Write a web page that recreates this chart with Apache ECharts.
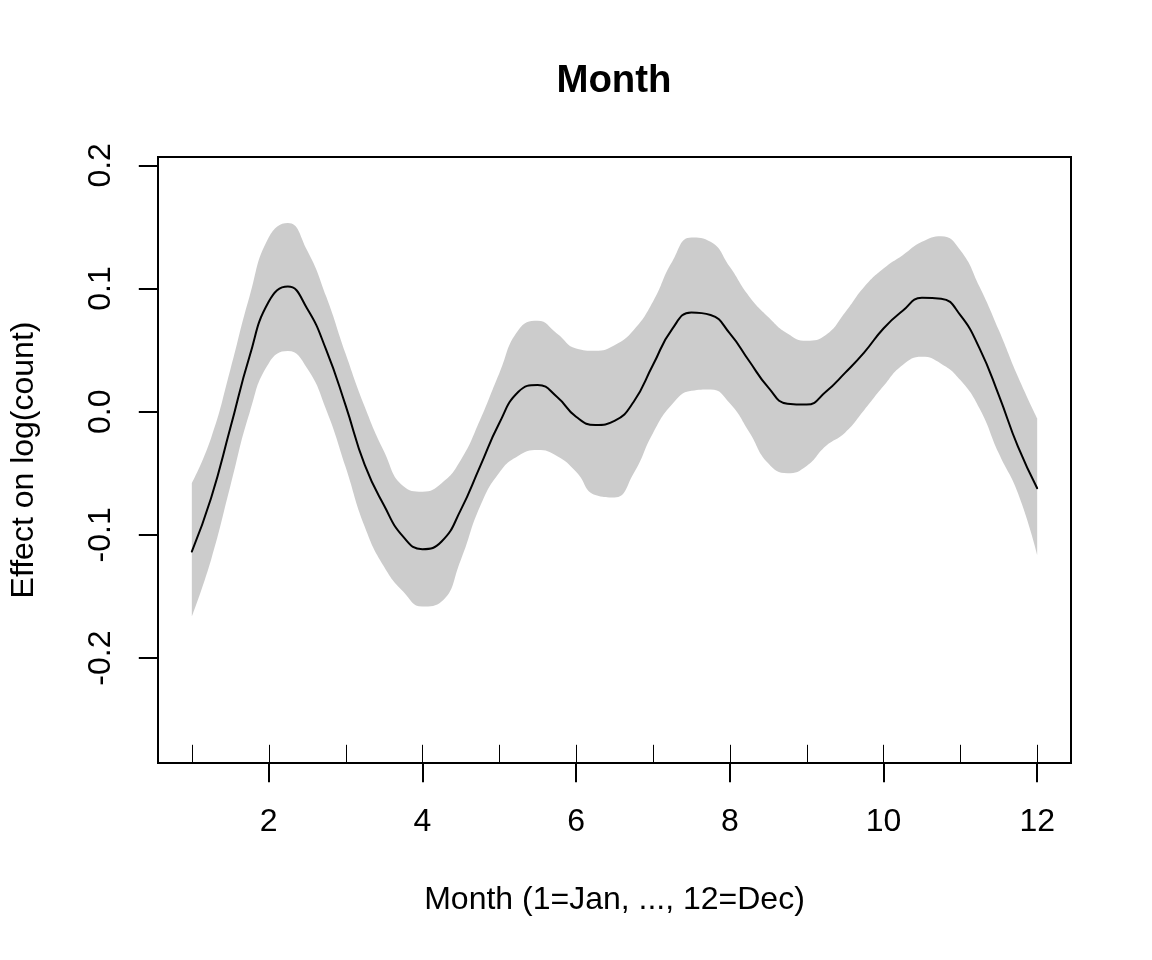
<!DOCTYPE html>
<html>
<head>
<meta charset="utf-8">
<script src="https://cdn.jsdelivr.net/npm/echarts@6/dist/echarts.min.js"></script>
<style>html,body{margin:0;padding:0;background:#fff}#c{width:1152px;height:960px}</style>
</head>
<body>
<div id="c"></div>
<script>
const months = [1,1.25,1.5,1.75,2,2.25,2.5,2.75,3,3.25,3.5,3.75,4,4.25,4.5,4.75,5,5.25,5.5,5.75,6,6.25,6.5,6.75,7,7.25,7.5,7.75,8,8.25,8.5,8.75,9,9.25,9.5,9.75,10,10.25,10.5,10.75,11,11.25,11.5,11.75,12];
const fitValues = [-0.1135,-0.0703,-0.0135,0.0446,0.0892,0.1016,0.0838,0.050,0.0054,-0.0432,-0.076,-0.1014,-0.1116,-0.1054,-0.0797,-0.0446,-0.0094,0.0162,0.0217,0.0122,-0.0041,-0.0108,-0.0075,0.0081,0.0379,0.0671,0.0805,0.0785,0.0636,0.0414,0.0198,0.0065,0.0058,0.0162,0.0315,0.0482,0.0676,0.0819,0.0925,0.0918,0.0784,0.0514,0.0135,-0.0284,-0.0621];
const upperValues = [-0.0581,-0.0216,0.0338,0.0933,0.1414,0.1533,0.1311,0.0933,0.0473,0.0041,-0.032,-0.0603,-0.0649,-0.0581,-0.0392,-0.0067,0.0311,0.0663,0.0738,0.0636,0.0514,0.0495,0.054,0.0663,0.0892,0.1217,0.1414,0.1379,0.1176,0.0938,0.077,0.0636,0.0576,0.0622,0.0805,0.1014,0.1163,0.1271,0.1379,0.1425,0.1311,0.1014,0.0663,0.0284,-0.0054];
const lowerValues = [-0.1663,-0.1203,-0.0608,-0.0013,0.0392,0.0492,0.0352,0.0014,-0.0446,-0.0933,-0.1257,-0.146,-0.1582,-0.1541,-0.1203,-0.077,-0.0495,-0.0357,-0.0311,-0.0359,-0.0487,-0.0676,-0.0696,-0.05,-0.0175,0.006,0.017,0.0181,0.0068,-0.0162,-0.0419,-0.05,-0.044,-0.0278,-0.017,0.0014,0.0208,0.0379,0.0446,0.039,0.0257,0.0027,-0.0338,-0.0662,-0.1162];
const rugMonths = [1,2,3,4,5,6,7,8,9,10,11,12];
const xTicks = [2,4,6,8,10,12];
const yTicks = [-0.2,-0.1,0,0.1,0.2];
const titleText = 'Month';
const xName = 'Month (1=Jan, ..., 12=Dec)';
const yName = 'Effect on log(count)';

const X_MIN = 0.56, X_MAX = 12.44, Y_MIN = -0.2852, Y_MAX = 0.2068;
const FONT = "'Liberation Sans', Arial, sans-serif";
const SMOOTH = 0.5;

const chart = echarts.init(document.getElementById('c'), null, {renderer: 'canvas'});
// value first so the stack is applied to the y dimension
const lowerData = months.map((m, i) => [lowerValues[i], m]);
const bandData = months.map((m, i) => [upperValues[i] - lowerValues[i], m]);
const fitData = months.map((m, i) => [m, fitValues[i]]);

chart.setOption({
  animation: false,
  backgroundColor: '#fff',
  title: {
    text: titleText, left: 614, top: 62, textAlign: 'center', padding: 0,
    textStyle: {fontFamily: FONT, fontSize: 38.4, fontWeight: 'bold', color: '#000'}
  },
  grid: {left: 157, top: 157, width: 914, height: 606, show: true, borderColor: '#000', borderWidth: 2, backgroundColor: 'transparent'},
  xAxis: {
    type: 'value', min: X_MIN, max: X_MAX,
    name: xName, nameLocation: 'middle', nameGap: 121,
    nameTextStyle: {fontFamily: FONT, fontSize: 32, color: '#000'},
    axisLine: {show: false, onZero: false},
    splitLine: {show: false},
    axisTick: {show: true, inside: false, length: 19.2, customValues: xTicks, lineStyle: {color: '#000', width: 2}},
    axisLabel: {customValues: xTicks, margin: 43, fontFamily: FONT, fontSize: 32, color: '#000', formatter: v => String(v)}
  },
  yAxis: {
    type: 'value', min: Y_MIN, max: Y_MAX,
    name: yName, nameLocation: 'middle', nameGap: 118, nameRotate: 90,
    nameTextStyle: {fontFamily: FONT, fontSize: 32, color: '#000'},
    axisLine: {show: false, onZero: false},
    splitLine: {show: false},
    axisTick: {show: true, inside: false, length: 19.2, customValues: yTicks, lineStyle: {color: '#000', width: 2}},
    axisLabel: {customValues: yTicks, rotate: 90, margin: 41, fontFamily: FONT, fontSize: 32, color: '#000', formatter: v => v.toFixed(1)}
  },
  series: [
    {type: 'line', name: 'lower', data: lowerData, encode: {x: 1, y: 0}, stack: 'band', stackStrategy: 'all', symbol: 'none', smooth: SMOOTH,
     lineStyle: {width: 0, opacity: 0}, silent: true, z: 1},
    {type: 'line', name: 'band', data: bandData, encode: {x: 1, y: 0}, stack: 'band', stackStrategy: 'all', symbol: 'none', smooth: SMOOTH,
     lineStyle: {width: 0, opacity: 0}, areaStyle: {color: '#CCCCCC', opacity: 1}, silent: true, z: 1},
    {type: 'line', name: 'fit', data: fitData, symbol: 'none', smooth: SMOOTH,
     lineStyle: {color: '#000', width: 2, cap: 'round', join: 'round'}, silent: true, z: 3},
    {type: 'custom', name: 'rug', data: rugMonths.map(m => [m, Y_MIN]), encode: {x: 0, y: 1}, silent: true, z: 4,
     renderItem: function (params, api) {
       const p = api.coord([api.value(0), Y_MIN]);
       return {type: 'line', shape: {x1: Math.round(p[0]) + 0.5, y1: p[1], x2: Math.round(p[0]) + 0.5, y2: p[1] - 18.2},
               style: {stroke: '#000', lineWidth: 1}};
     }}
  ]
});
</script>
</body>
</html>
